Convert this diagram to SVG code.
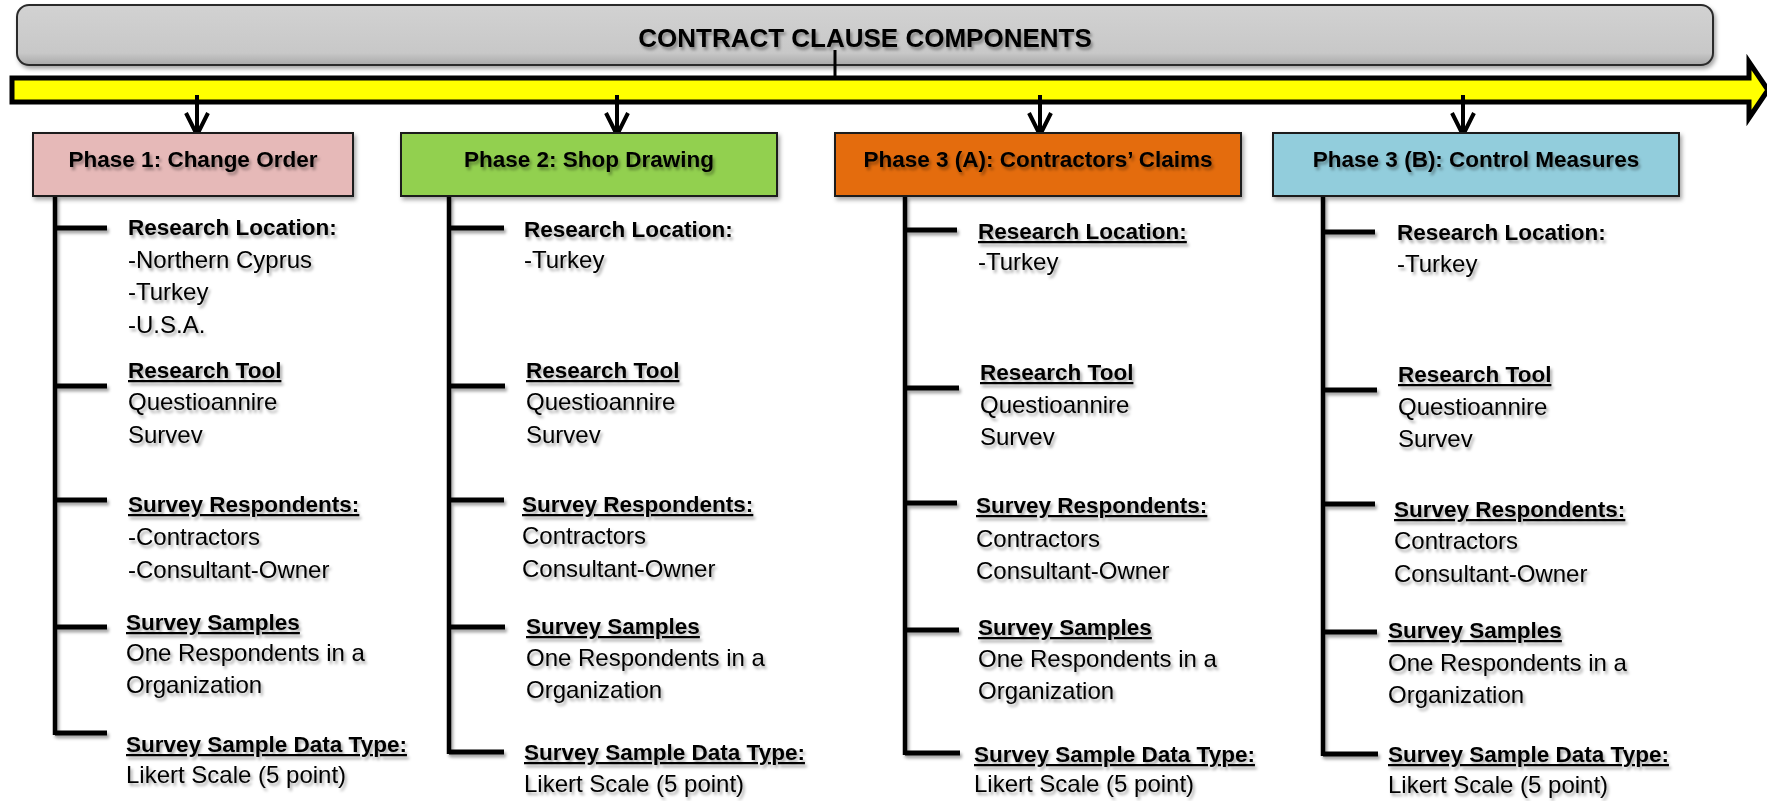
<svg xmlns="http://www.w3.org/2000/svg" width="1767" height="801" viewBox="0 0 1767 801">
  <defs>
    <filter id="shadow" x="-10%" y="-10%" width="130%" height="140%">
      <feDropShadow dx="2" dy="3" stdDeviation="1.6" flood-color="#000" flood-opacity="0.35"/>
    </filter>
    <filter id="boxShadow" x="-5%" y="-20%" width="110%" height="150%">
      <feDropShadow dx="2" dy="3" stdDeviation="2" flood-color="#000" flood-opacity="0.35"/>
    </filter>
    <linearGradient id="titleFill" x1="0" y1="0" x2="0" y2="1">
      <stop offset="0" stop-color="#d2d2d2"/>
      <stop offset="0.8" stop-color="#c8c8c8"/>
      <stop offset="1" stop-color="#a8a8a8"/>
    </linearGradient>
  </defs>
  <style>
    text { font-family: "Liberation Sans", Arial, sans-serif; fill: #000; }
    .title { font-size: 26px; font-weight: bold; text-anchor: middle; }
    .phase { font-size: 22.5px; font-weight: bold; text-anchor: middle; }
    .h { font-size: 22.5px; font-weight: bold; }
    .u { text-decoration: underline; }
    .t { font-size: 24px; }
    .box { stroke: #1a1a1a; stroke-width: 2; }
    .trunk { stroke: #000; stroke-width: 4.5; fill: none; }
    .branch { stroke: #000; stroke-width: 5; fill: none; }
    .drop { stroke: #000; stroke-width: 4; fill: none; }
    .txt { filter: url(#shadow); }
  </style>

  <rect width="1767" height="801" fill="#fff"/>

  <!-- header bar -->
  <g id="header">
    <rect x="17" y="5" width="1696" height="60" rx="12" ry="12" fill="url(#titleFill)" stroke="#2b2b2b" stroke-width="2" filter="url(#boxShadow)"/>
    <text class="title txt" x="865" y="47">CONTRACT CLAUSE COMPONENTS</text>
  </g>

  <!-- timeline arrow -->
  <g id="timeline">
    <line x1="835" y1="50" x2="835" y2="80" stroke="#000" stroke-width="3"/>
    <polygon points="12,78 1749,78 1749,62 1768,90 1749,118 1749,102 12,102" fill="#ffff00" stroke="#000" stroke-width="5" stroke-linejoin="miter" stroke-miterlimit="10"/>
  </g>

  <!-- connectors from the timeline down to each phase -->
  <g id="connectors">
    <g class="drop">
      <line x1="197" y1="95" x2="197" y2="134"/>
      <polyline points="186,113 197,135 208,113"/>
      <line x1="617" y1="95" x2="617" y2="134"/>
      <polyline points="606,113 617,135 628,113"/>
      <line x1="1040" y1="95" x2="1040" y2="134"/>
      <polyline points="1029,113 1040,135 1051,113"/>
      <line x1="1463" y1="95" x2="1463" y2="134"/>
      <polyline points="1452,113 1463,135 1474,113"/>
    </g>
    <!-- bracket trees -->
    <g filter="url(#shadow)">
      <line class="trunk" x1="55" y1="196" x2="55" y2="735"/>
      <path class="branch" d="M55,228H107M55,386H107M55,500H107M55,627H107M55,733H107"/>
      <line class="trunk" x1="449" y1="196" x2="449" y2="754"/>
      <path class="branch" d="M449,228H504M449,386H505M449,500H504M449,627H505M449,752H504"/>
      <line class="trunk" x1="905" y1="196" x2="905" y2="755"/>
      <path class="branch" d="M905,230H957M905,388H959M905,503H957M905,630H959M905,753H960"/>
      <line class="trunk" x1="1323" y1="196" x2="1323" y2="756"/>
      <path class="branch" d="M1323,232H1375M1323,390H1377M1323,504H1375M1323,632H1377M1323,754H1378"/>
    </g>
  </g>

  <!-- Phase 1 -->
  <g id="phase1">
    <rect class="box" x="33" y="133" width="320" height="63" fill="#e6b9b8" filter="url(#boxShadow)"/>
    <text class="phase txt" x="193" y="167">Phase 1: Change Order</text>
    <g class="txt">
      <text class="h" x="128" y="235">Research Location:</text>
      <text class="t" x="128" y="268">-Northern Cyprus</text>
      <text class="t" x="128" y="300">-Turkey</text>
      <text class="t" x="128" y="333">-U.S.A.</text>
      <text class="h u" x="128" y="378">Research Tool</text>
      <text class="t" x="128" y="410">Questioannire</text>
      <text class="t" x="128" y="443">Survev</text>
      <text class="h u" x="128" y="512">Survey Respondents:</text>
      <text class="t" x="128" y="545">-Contractors</text>
      <text class="t" x="128" y="578">-Consultant-Owner</text>
      <text class="h u" x="126" y="630">Survey Samples</text>
      <text class="t" x="126" y="661">One Respondents in a</text>
      <text class="t" x="126" y="693">Organization</text>
      <text class="h u" x="126" y="752">Survey Sample Data Type:</text>
      <text class="t" x="126" y="783">Likert Scale (5 point)</text>
    </g>
  </g>

  <!-- Phase 2 -->
  <g id="phase2">
    <rect class="box" x="401" y="133" width="376" height="63" fill="#92d050" filter="url(#boxShadow)"/>
    <text class="phase txt" x="589" y="167">Phase 2: Shop Drawing</text>
    <g class="txt">
      <text class="h" x="524" y="237">Research Location:</text>
      <text class="t" x="524" y="268">-Turkey</text>
      <text class="h u" x="526" y="378">Research Tool</text>
      <text class="t" x="526" y="410">Questioannire</text>
      <text class="t" x="526" y="443">Survev</text>
      <text class="h u" x="522" y="512">Survey Respondents:</text>
      <text class="t" x="522" y="544">Contractors</text>
      <text class="t" x="522" y="577">Consultant-Owner</text>
      <text class="h u" x="526" y="634">Survey Samples</text>
      <text class="t" x="526" y="666">One Respondents in a</text>
      <text class="t" x="526" y="698">Organization</text>
      <text class="h u" x="524" y="760">Survey Sample Data Type:</text>
      <text class="t" x="524" y="792">Likert Scale (5 point)</text>
    </g>
  </g>

  <!-- Phase 3 (A) -->
  <g id="phase3a">
    <rect class="box" x="835" y="133" width="406" height="63" fill="#e46c0a" filter="url(#boxShadow)"/>
    <text class="phase txt" x="1038" y="167">Phase 3 (A): Contractors’ Claims</text>
    <g class="txt">
      <text class="h u" x="978" y="239">Research Location:</text>
      <text class="t" x="978" y="270">-Turkey</text>
      <text class="h u" x="980" y="380">Research Tool</text>
      <text class="t" x="980" y="413">Questioannire</text>
      <text class="t" x="980" y="445">Survev</text>
      <text class="h u" x="976" y="513">Survey Respondents:</text>
      <text class="t" x="976" y="547">Contractors</text>
      <text class="t" x="976" y="579">Consultant-Owner</text>
      <text class="h u" x="978" y="635">Survey Samples</text>
      <text class="t" x="978" y="667">One Respondents in a</text>
      <text class="t" x="978" y="699">Organization</text>
      <text class="h u" x="974" y="762">Survey Sample Data Type:</text>
      <text class="t" x="974" y="792">Likert Scale (5 point)</text>
    </g>
  </g>

  <!-- Phase 3 (B) -->
  <g id="phase3b">
    <rect class="box" x="1273" y="133" width="406" height="63" fill="#92cddc" filter="url(#boxShadow)"/>
    <text class="phase txt" x="1476" y="167">Phase 3 (B): Control Measures</text>
    <g class="txt">
      <text class="h" x="1397" y="240">Research Location:</text>
      <text class="t" x="1397" y="272">-Turkey</text>
      <text class="h u" x="1398" y="382">Research Tool</text>
      <text class="t" x="1398" y="415">Questioannire</text>
      <text class="t" x="1398" y="447">Survev</text>
      <text class="h u" x="1394" y="517">Survey Respondents:</text>
      <text class="t" x="1394" y="549">Contractors</text>
      <text class="t" x="1394" y="582">Consultant-Owner</text>
      <text class="h u" x="1388" y="638">Survey Samples</text>
      <text class="t" x="1388" y="671">One Respondents in a</text>
      <text class="t" x="1388" y="703">Organization</text>
      <text class="h u" x="1388" y="762">Survey Sample Data Type:</text>
      <text class="t" x="1388" y="793">Likert Scale (5 point)</text>
    </g>
  </g>
</svg>
